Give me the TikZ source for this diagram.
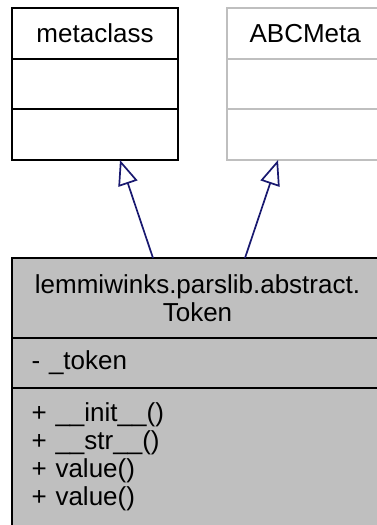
\documentclass[tikz,border=0pt]{standalone}
\usepackage{fontspec}
\setmainfont{Liberation Sans}
\usepackage{xcolor}
\usetikzlibrary{arrows.meta,positioning,calc}
\definecolor{edgeblue}{RGB}{25,25,112}
\definecolor{undoc}{RGB}{191,191,191}
\definecolor{current}{RGB}{191,191,191}

\begin{document}
\begin{tikzpicture}[
    x=1pt, y=1pt,
    node distance=0pt,
    cls/.style={draw=black, line width=1.8pt, rectangle, outer sep=0pt, inner sep=0pt,
        font=\fontsize{26pt}{28pt}\selectfont},
    ghost/.style={cls, draw=undoc},
    focus/.style={cls, fill=current},
    members/.style={align=left, inner xsep=20pt},
    inherit/.style={draw=edgeblue, line width=1.7pt, -{Triangle[open, length=25pt, width=20pt, line width=1.7pt]}}
]
\useasboundingbox (0,0) rectangle (376,-525);

% base classes
\node[cls, anchor=north west, minimum width=166pt, minimum height=51pt] (meta) at (12,-8) {metaclass};
\node[cls, below=of meta, minimum width=166pt, minimum height=50pt] (metaattr) {};
\node[cls, below=of metaattr, minimum width=166pt, minimum height=51pt] (metaops) {};

\node[ghost, anchor=north west, minimum width=157pt, minimum height=51pt] (abc) at (226.7,-8) {ABCMeta};
\node[ghost, below=of abc, minimum width=157pt, minimum height=50pt] (abcattr) {};
\node[ghost, below=of abcattr, minimum width=157pt, minimum height=51pt] (abcops) {};

% derived class
\node[focus, anchor=north west, minimum width=371.6pt, minimum height=80pt, align=center] (token) at (11.7,-258) {lemmiwinks.parslib.abstract.\\Token};
\node[focus, members, below=of token, minimum width=371.6pt, minimum height=50pt, text width=331.6pt] (tokenattr) {- \_token};
\node[focus, members, below=of tokenattr, minimum width=371.6pt, minimum height=138pt, text width=331.6pt] (tokenops) {+ \_\_init\_\_()\\+ \_\_str\_\_()\\+ value()\\+ value()};

\draw[inherit] ([xshift=141.3pt]token.north west) -- ([xshift=108pt]metaops.south west);
\draw[inherit] ([xshift=233.3pt]token.north west) -- ([xshift=51.3pt]abcops.south west);
\end{tikzpicture}
\end{document}
